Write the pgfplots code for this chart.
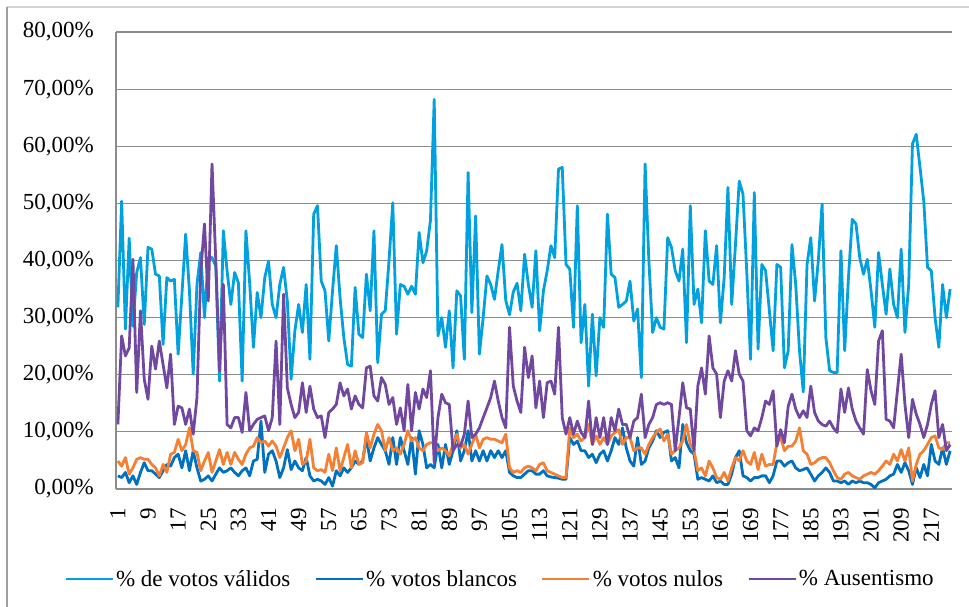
\documentclass[border=0pt]{standalone}
\usepackage{fontspec}
\setmainfont{Liberation Serif}
\usepackage{pgfplots}
\usepackage{pgfplotstable}
\pgfplotsset{compat=1.18}
\definecolor{cval}{RGB}{0,161,222}
\definecolor{cbla}{RGB}{0,112,192}
\definecolor{cnul}{RGB}{245,128,52}
\definecolor{caus}{RGB}{112,72,160}
\definecolor{gridgray}{RGB}{140,140,140}

\pgfplotstableread{
k V B N A
1 31.8 2.3 4.9 11.3
2 50.4 2.0 4.0 26.8
3 28.0 2.9 5.5 23.3
4 43.9 1.1 2.6 24.7
5 28.5 2.3 3.7 40.2
6 37.9 0.8 5.2 16.9
7 40.5 2.9 5.5 31.2
8 28.8 4.6 5.2 19.2
9 42.3 3.2 5.2 15.7
10 42.0 3.2 4.3 25.0
11 37.6 2.6 3.7 21.0
12 37.3 2.0 2.3 25.9
13 25.3 3.2 4.3 21.8
14 37.0 4.3 2.9 17.7
15 36.4 4.0 6.1 23.6
16 36.7 5.5 6.4 11.3
17 23.6 6.1 8.7 14.5
18 34.0 3.7 6.7 14.2
19 44.6 6.7 7.8 11.3
20 34.7 3.2 10.7 14.0
21 20.1 6.7 6.7 9.6
22 35.8 3.7 6.4 16.0
23 41.4 1.4 3.2 38.0
24 30.0 1.7 4.9 46.4
25 40.5 2.3 6.4 32.9
26 40.5 1.4 2.9 56.9
27 39.0 2.6 4.9 39.9
28 18.9 3.7 6.9 20.7
29 45.2 2.9 4.3 35.8
30 38.2 3.2 6.4 11.3
31 32.3 3.7 4.3 10.7
32 37.9 2.9 6.4 12.5
33 36.1 2.3 5.2 12.5
34 18.9 3.2 4.3 9.9
35 45.2 3.7 6.1 16.9
36 36.0 2.3 7.2 10.2
37 24.8 4.9 7.5 11.3
38 34.4 5.2 9.0 12.2
39 30.0 11.9 8.1 12.5
40 37.0 2.9 8.4 12.8
41 39.9 6.1 7.5 10.2
42 32.3 6.7 8.4 12.5
43 30.0 4.9 7.5 25.9
44 35.8 2.0 5.5 11.3
45 38.8 3.7 7.2 34.1
46 32.9 6.9 9.0 17.7
47 19.2 3.4 10.2 14.8
48 27.7 4.9 6.7 12.5
49 32.3 3.7 8.7 13.4
50 27.4 3.2 4.3 18.6
51 35.8 5.5 4.9 13.4
52 22.7 2.3 8.7 18.0
53 48.1 1.4 3.7 14.0
54 49.6 1.7 3.2 12.5
55 36.4 1.4 3.4 12.8
56 34.7 0.8 2.9 9.0
57 25.9 2.0 6.1 13.4
58 34.7 0.5 3.2 14.0
59 42.6 3.2 7.2 14.8
60 33.5 2.3 3.2 18.6
61 26.5 3.7 5.5 16.3
62 21.8 2.9 7.8 17.5
63 21.5 3.7 3.7 14.0
64 35.3 4.9 6.7 16.3
65 27.1 4.3 4.3 14.8
66 26.5 4.9 4.6 14.2
67 37.6 9.0 9.9 21.2
68 31.2 4.9 7.2 21.5
69 45.2 7.2 9.6 16.3
70 22.1 9.0 11.3 15.4
71 30.6 7.8 10.2 19.5
72 31.2 6.7 6.7 18.3
73 40.0 4.3 9.0 14.8
74 50.1 9.0 6.7 16.0
75 27.1 4.3 7.2 11.3
76 35.8 9.0 6.1 14.2
77 35.5 6.7 7.8 10.2
78 34.1 4.3 10.2 18.3
79 35.5 9.0 8.4 10.2
80 34.1 2.6 9.0 16.9
81 44.9 10.2 7.2 14.0
82 39.6 7.8 6.7 17.5
83 41.7 3.7 7.8 16.0
84 47.0 4.3 8.1 20.7
85 68.2 3.7 8.1 4.6
86 26.8 7.8 6.7 12.5
87 30.0 3.7 7.2 16.6
88 24.8 7.8 6.7 15.1
89 31.2 4.3 5.8 14.8
90 21.2 6.7 7.8 6.7
91 34.7 10.2 9.6 7.8
92 33.8 4.9 7.2 7.5
93 22.7 6.7 7.8 9.6
94 55.4 10.2 6.1 15.4
95 30.9 4.9 7.8 9.0
96 47.8 6.7 9.6 9.6
97 23.6 4.9 7.2 10.7
98 30.0 6.7 8.7 12.5
99 37.3 4.9 9.0 14.2
100 35.8 6.7 8.7 16.0
101 33.2 5.5 8.7 18.9
102 38.2 6.7 8.4 15.4
103 42.8 5.5 8.1 12.5
104 33.0 6.7 9.6 10.7
105 30.5 2.9 3.7 28.3
106 34.5 2.3 2.9 18.0
107 36.0 2.0 3.2 15.4
108 31.2 2.0 2.9 13.4
109 41.1 2.6 3.7 24.8
110 35.8 3.2 4.0 19.5
111 31.8 3.2 3.7 23.3
112 41.7 2.6 3.2 14.2
113 27.7 2.6 4.3 18.9
114 34.7 3.2 4.6 12.5
115 38.2 2.3 3.2 18.6
116 42.6 2.1 2.9 18.9
117 40.5 2.0 2.6 16.6
118 56.0 1.9 2.3 28.3
119 56.3 1.7 2.0 12.5
120 39.3 1.7 2.0 9.6
121 38.5 9.0 10.7 12.5
122 28.3 7.8 9.0 9.6
123 49.6 8.4 9.6 11.9
124 25.6 6.7 8.4 9.9
125 32.3 6.7 9.0 9.0
126 18.0 5.5 11.3 15.4
127 30.6 6.1 7.8 7.8
128 19.8 4.6 9.3 12.5
129 30.0 6.1 7.8 9.0
130 28.3 6.7 9.0 12.5
131 48.1 4.9 7.8 7.8
132 37.6 6.7 9.3 12.5
133 37.0 9.0 9.9 10.2
134 31.8 7.8 10.4 14.0
135 32.3 10.7 7.8 11.3
136 32.9 7.2 9.0 11.3
137 36.4 4.9 9.0 9.0
138 29.4 4.0 6.7 11.9
139 31.5 9.0 7.2 12.5
140 19.5 4.3 7.2 16.6
141 56.9 4.9 6.1 9.0
142 40.0 7.2 7.8 11.3
143 27.4 8.4 9.0 12.5
144 30.0 10.2 9.9 14.8
145 28.3 9.0 10.5 15.1
146 28.0 9.9 8.4 14.8
147 44.0 10.2 9.6 15.1
148 42.3 4.9 6.1 14.8
149 38.2 5.5 6.7 6.7
150 36.4 3.7 7.2 12.5
151 42.0 11.3 8.4 18.6
152 25.6 8.1 11.3 14.2
153 49.6 6.7 7.8 14.0
154 32.3 6.1 6.7 6.7
155 35.0 1.7 3.2 18.0
156 29.1 2.0 3.7 21.2
157 45.2 1.7 2.3 16.6
158 36.4 1.4 4.9 26.8
159 35.8 2.3 3.7 21.2
160 42.6 1.1 2.0 20.1
161 29.1 1.4 1.7 12.5
162 37.0 0.8 2.9 18.9
163 52.8 0.8 1.4 20.7
164 32.3 2.6 3.7 18.9
165 42.8 5.5 5.5 24.2
166 53.9 6.7 4.9 20.1
167 51.6 2.3 6.7 18.9
168 38.0 2.0 4.9 10.2
169 22.7 1.4 4.3 9.3
170 51.9 2.0 6.4 10.7
171 24.5 2.0 3.4 10.2
172 39.3 2.3 6.1 12.5
173 38.2 2.3 4.0 15.4
174 31.2 1.1 4.3 14.8
175 24.2 2.3 4.3 17.2
176 39.3 4.9 8.1 7.5
177 38.8 4.9 9.0 10.4
178 21.2 4.0 6.7 8.1
179 24.2 4.6 7.5 14.5
180 42.8 4.9 7.5 16.6
181 35.8 3.7 8.4 14.0
182 24.2 3.2 10.7 12.5
183 17.0 3.4 6.7 13.7
184 39.3 3.7 6.1 12.5
185 44.0 2.6 4.3 18.0
186 32.9 1.4 4.6 13.4
187 40.0 2.3 5.2 11.9
188 49.9 2.9 5.5 11.3
189 26.5 3.7 5.5 11.0
190 20.7 2.9 4.6 11.9
191 20.4 1.4 3.2 10.7
192 20.4 1.4 2.0 9.9
193 41.7 1.1 1.7 17.5
194 24.2 1.4 2.6 13.4
195 37.0 0.8 2.9 17.7
196 47.2 1.4 2.3 14.0
197 46.4 1.1 2.0 11.9
198 40.5 1.4 1.7 10.7
199 37.6 1.1 2.3 9.6
200 40.2 1.1 2.6 20.9
201 34.7 0.8 2.9 17.2
202 28.3 0.2 2.6 14.8
203 41.4 1.1 3.2 25.9
204 35.8 1.4 4.0 27.7
205 30.6 1.7 4.9 12.2
206 38.5 2.3 4.3 11.9
207 32.3 2.6 6.1 10.7
208 30.0 4.3 4.9 17.2
209 42.0 2.9 6.9 23.6
210 27.4 4.6 4.9 14.8
211 35.8 3.2 7.2 9.0
212 60.4 0.8 1.4 15.7
213 62.1 3.7 4.3 13.1
214 56.3 2.0 6.1 11.3
215 50.4 4.3 6.7 9.0
216 38.8 2.3 7.8 11.3
217 38.2 7.8 9.0 14.8
218 30.0 4.9 9.3 17.2
219 24.8 4.3 7.2 9.0
220 35.8 7.2 6.9 11.3
221 30.0 4.3 8.1 6.7
222 35.0 6.7 8.1 7.8
}\datatable

\begin{document}
\begin{tikzpicture}[x=1pt,y=1pt]
\useasboundingbox (0,0) rectangle (969,607);
\draw[gray!35, line width=1.2pt] (7,600) -- (969,600);
\draw[gray!75, line width=1.2pt] (7,600) -- (7,0);
\begin{axis}[
  at={(116pt,118pt)}, anchor=south west,
  scale only axis, width=836pt, height=457pt,
  xmin=0.5, xmax=222.5, ymin=0, ymax=80,
  axis x line*=bottom, axis y line*=left,
  axis line style={draw=gridgray, line width=1.2pt, -},
  ymajorgrids, grid style={gridgray, line width=1.2pt},
  xtick={1,9,...,217},
  xticklabels={1,9,17,25,33,41,49,57,65,73,81,89,97,105,113,121,129,137,145,153,161,169,177,185,193,201,209,217},
  ytick={0,10,...,80},
  yticklabels={{0,00\%},{10,00\%},{20,00\%},{30,00\%},{40,00\%},{50,00\%},{60,00\%},{70,00\%},{80,00\%}},
  major tick length=0pt,
  tick label style={font=\fontsize{23}{27}\selectfont},
  xticklabel style={rotate=90, anchor=east, inner sep=0pt},
  xticklabel shift=19pt,
  yticklabel style={anchor=east, inner sep=0pt},
  yticklabel shift=22pt,
  legend columns=4,
  legend style={at={(0.4593,-0.197)}, anchor=center, draw=none, fill=none,
    font=\fontsize{23}{27}\selectfont, inner sep=0pt,
    /tikz/every even column/.append style={column sep=22pt}},
  legend image code/.code={\draw[#1, line width=2.8pt] (0pt,0pt) -- (47pt,0pt);},
  every axis plot/.append style={line width=2.8pt, line join=round},
]
\addplot[cval] table[x=k,y=V]{\datatable};
\addlegendentry{\% de votos válidos}
\addplot[cbla] table[x=k,y=B]{\datatable};
\addlegendentry{\% votos blancos}
\addplot[cnul] table[x=k,y=N]{\datatable};
\addlegendentry{\% votos nulos}
\addplot[caus] table[x=k,y=A]{\datatable};
\addlegendentry{\% Ausentismo}
\end{axis}
\end{tikzpicture}
\end{document}
